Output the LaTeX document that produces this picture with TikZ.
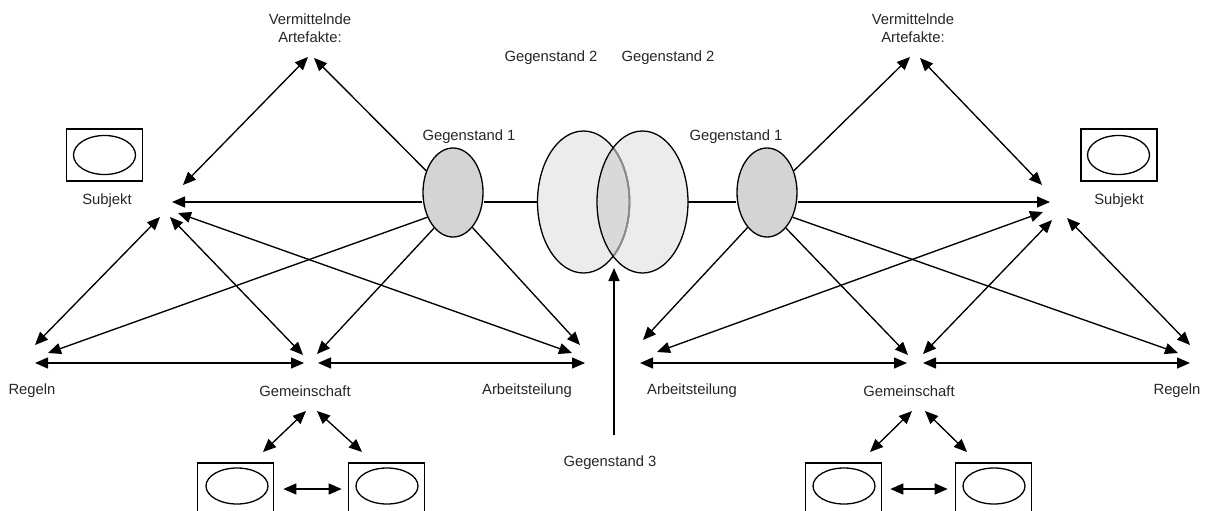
\documentclass[tikz,border=0pt]{standalone}
\usepackage{fontspec}
\setmainfont{Liberation Sans}
\usetikzlibrary{shapes.geometric,arrows.meta}

\begin{document}
\begin{tikzpicture}[x=1pt,y=-1pt,
  >={Triangle[length=13pt,width=11pt]},
  lbl/.style={font=\fontsize{14.8}{18.5}\selectfont, text=black!85, inner sep=0pt, align=center},
  obj/.style={ellipse, draw, line width=1.3pt, fill=black!17, minimum width=60pt, minimum height=89pt, inner sep=0pt},
  shared/.style={ellipse, fill=black!7.5, minimum width=92pt, minimum height=142pt, inner sep=0pt},
  subjbox/.style={draw, line width=1.6pt, minimum width=76pt, minimum height=52pt, inner sep=0pt},
  face/.style={ellipse, draw, line width=1.3pt, minimum width=62pt, minimum height=39pt, inner sep=0pt},
  arr/.style={line width=1.35pt, ->},
  darr/.style={line width=1.35pt, <->},
]
\useasboundingbox (0,0) rectangle (1207,511);
\clip (0,0) rectangle (1207,511);

% ---------- labels ----------
\node[lbl] (vartL) at (310,28) {Vermittelnde\\Artefakte:};
\node[lbl] (subjL) at (107,201) {Subjekt};
\node[lbl] (regL) at (32,391) {Regeln};
\node[lbl] (gemL) at (305,391) {Gemeinschaft};
\node[lbl] (arbL) at (527,391) {Arbeitsteilung};
\node[lbl] (o1lblL) at (469,137) {Gegenstand 1};
\node[lbl] (o2lblL) at (551,58) {Gegenstand 2};
\node[lbl] (o2lblR) at (668,58) {Gegenstand 2};
\node[lbl] (o1lblR) at (736,137) {Gegenstand 1};
\node[lbl] (o3lbl) at (610,463) {Gegenstand 3};
\node[lbl] (vartR) at (913,28) {Vermittelnde\\Artefakte:};
\node[lbl] (subjR) at (1119,201) {Subjekt};
\node[lbl] (arbR) at (692,391) {Arbeitsteilung};
\node[lbl] (gemR) at (909,391) {Gemeinschaft};
\node[lbl] (regR) at (1177,391) {Regeln};

% ---------- subject pictograms ----------
\node[subjbox] (sbL) at (104.5,155) {};
\node[face] (seL) at (104.5,155) {};
\node[subjbox] (sbR) at (1119,155) {};
\node[face] (seR) at (1118.5,155) {};

\node[subjbox] (bL1) at (235.5,489) {};
\node[face, minimum height=36pt] (bfL1) at (237,486) {};
\node[subjbox] (bL2) at (386.5,489) {};
\node[face, minimum height=36pt] (bfL2) at (387,486) {};
\node[subjbox] (bR1) at (843.5,489) {};
\node[face, minimum height=36pt] (bfR1) at (844,486) {};
\node[subjbox] (bR2) at (993.5,489) {};
\node[face, minimum height=36pt] (bfR2) at (994,486) {};

% ---------- objects ----------
\node[obj] (o1L) at (453,192.5) {};
\node[obj] (o1R) at (767,192.5) {};

\node[shared] (o2a) at (583.5,202) {};
\node[shared, minimum width=91pt] (o2b) at (642.5,202) {};
\begin{scope}
  \clip (o2a.center) ellipse [x radius=46pt, y radius=71pt];
  \fill[black!15] (o2b.center) ellipse [x radius=45.5pt, y radius=71pt];
\end{scope}
\draw[line width=1.3pt] (o2a.center) ellipse [x radius=46pt, y radius=71pt];
\begin{scope}
  \clip (o2b.center) ellipse [x radius=45.5pt, y radius=71pt];
  \draw[line width=1.9pt, black!45] (o2a.center) ellipse [x radius=46pt, y radius=71pt];
\end{scope}
\draw[line width=1.3pt] (o2b.center) ellipse [x radius=45.5pt, y radius=71pt];

% ---------- arrow end points, left system ----------
\coordinate (vL1) at (308,57);
\coordinate (vL2) at (314,58);
\coordinate (sV) at (183,185);
\coordinate (sL) at (172,202);
\coordinate (sLr) at (160,217);
\coordinate (sLg) at (170,217);
\coordinate (sLa) at (178,213);
\coordinate (rLs) at (35,345);
\coordinate (rLo) at (48,353);
\coordinate (rLh) at (35,363);
\coordinate (gLs) at (303,355);
\coordinate (gLo) at (317,354);
\coordinate (gLh1) at (304,363);
\coordinate (gLh2) at (318,363);
\coordinate (gLd1) at (306,411);
\coordinate (gLd2) at (317,411);
\coordinate (bLt1) at (263,452);
\coordinate (bLt2) at (362,452);
\coordinate (aLs) at (572,353);
\coordinate (aLo) at (580,345);
\coordinate (aLh) at (585,363);

% ---------- arrow end points, right system ----------
\coordinate (vR1) at (910,57);
\coordinate (vR2) at (920,58);
\coordinate (sRv) at (1042,185);
\coordinate (sR) at (1050,202);
\coordinate (sRa) at (1043,212);
\coordinate (sRg) at (1052,220);
\coordinate (sRr) at (1067,218);
\coordinate (rRs) at (1190,345);
\coordinate (rRo) at (1178,353);
\coordinate (rRh) at (1190,363);
\coordinate (gRo) at (908,355);
\coordinate (gRs) at (923,354);
\coordinate (gRh1) at (907,363);
\coordinate (gRh2) at (923,363);
\coordinate (gRd1) at (912,411);
\coordinate (gRd2) at (925,411);
\coordinate (bRt1) at (870,452);
\coordinate (bRt2) at (967,452);
\coordinate (aRo) at (643,340);
\coordinate (aRs) at (657,352);
\coordinate (aRh) at (640,363);

% ---------- third object ----------
\coordinate (g3foot) at (614,435);
\coordinate (g3tip) at (614,268);
\draw[arr] (g3foot) -- (g3tip);

% ---------- left activity system ----------
\draw[arr] (o1L.141) -- (vL2);
\draw[darr] (sV) -- (vL1);
\draw[arr] (o1L.west |- sL) -- (sL);
\draw[line width=1.35pt] (o1L.east |- sL) -- (o2a.west);
\draw[arr] (o1L.224) -- (rLo);
\draw[arr] (o1L.242) -- (gLo);
\draw[arr] (o1L.299) -- (aLo);
\draw[darr] (sLr) -- (rLs);
\draw[darr] (sLg) -- (gLs);
\draw[darr] (sLa) -- (aLs);
\draw[darr] (rLh) -- (gLh1);
\draw[darr] (gLh2) -- (aLh);
\draw[darr] (gLd1) -- (bLt1);
\draw[darr] (gLd2) -- (bLt2);
\draw[darr, shorten <=9pt, shorten >=6pt] (bL1.east) -- (bL2.west);

% ---------- right activity system ----------
\draw[arr] (o1R.39) -- (vR1);
\draw[darr] (sRv) -- (vR2);
\draw[arr] (o1R.east |- sR) -- (sR);
\draw[line width=1.35pt] (o2b.east) -- (o1R.west |- sR);
\draw[arr] (o1R.316) -- (rRo);
\draw[arr] (o1R.298) -- (gRo);
\draw[arr] (o1R.241) -- (aRo);
\draw[darr] (sRr) -- (rRs);
\draw[darr] (sRg) -- (gRs);
\draw[darr] (sRa) -- (aRs);
\draw[darr] (aRh) -- (gRh1);
\draw[darr] (gRh2) -- (rRh);
\draw[darr] (gRd1) -- (bRt1);
\draw[darr] (gRd2) -- (bRt2);
\draw[darr, shorten <=8pt, shorten >=7pt] (bR1.east) -- (bR2.west);
\end{tikzpicture}
\end{document}
